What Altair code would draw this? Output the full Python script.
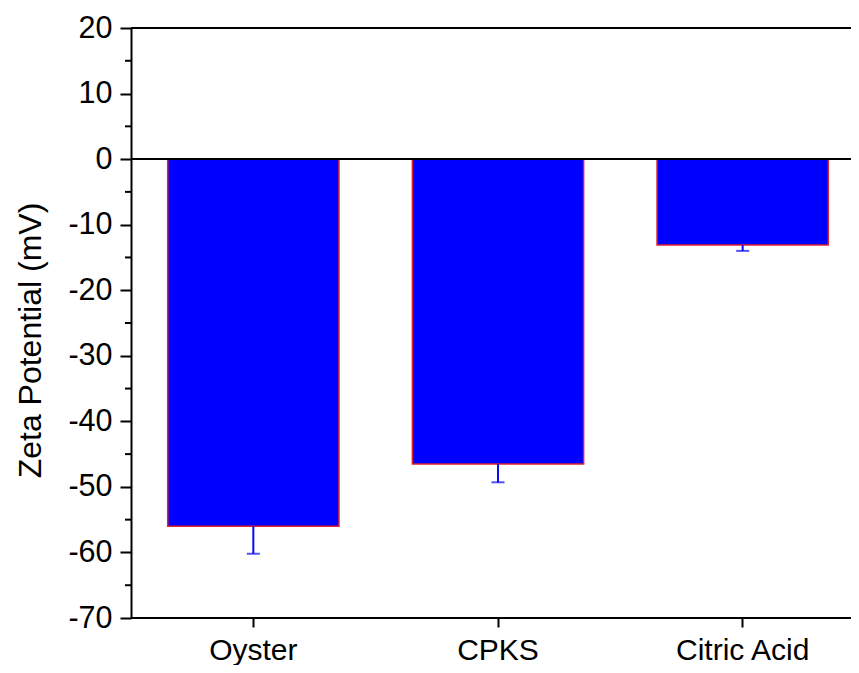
import altair as alt
import pandas as pd

categories = ["Oyster", "CPKS", "Citric Acid"]
values = [-56.0, -46.5, -13.1]
errors = [4.2, 2.8, 0.9]
major_ticks = [20, 10, 0, -10, -20, -30, -40, -50, -60, -70]
minor_ticks = [15, 5, -5, -15, -25, -35, -45, -55, -65]

df = pd.DataFrame({"cat": categories, "val": values, "err": errors})
df["low"] = df["val"] - df["err"]

FONT = "Liberation Sans"

x_scale = alt.Scale(domain=categories, range=[0, 734], paddingInner=0.3, paddingOuter=0.15, align=0.5)
y_scale = alt.Scale(domain=[-70, 20], nice=False, zero=False)

x_enc = alt.X("cat:N", scale=x_scale, sort=categories,
              axis=alt.Axis(title=None, labelAngle=0, labelFontSize=30, labelFont=FONT,
                            labelColor="black", tickSize=9, tickWidth=2, tickColor="black",
                            labelBaseline="alphabetic", labelPadding=32, grid=False,
                            domain=False))
y_enc = alt.Y("val:Q", scale=y_scale,
              axis=alt.Axis(title="Zeta Potential (mV)", values=major_ticks, labelFontSize=30.5,
                            labelFont=FONT, labelColor="black", titleFont=FONT, titleFontSize=32,
                            titleFontWeight="normal", titleColor="black", titlePadding=20,
                            titleY=312,
                            labelExpr="toString(datum.value)",
                            tickSize=11, tickWidth=2, tickColor="black", domainColor="black",
                            domainWidth=2, labelPadding=8, grid=False))

bars = alt.Chart(df).mark_bar(color="#0000FF", stroke="#E0202E", strokeWidth=1.5).encode(
    x=x_enc, y=y_enc, y2=alt.datum(0)
)

err_rule = alt.Chart(df).mark_rule(color="#0A0AF0", strokeWidth=2).encode(
    x=alt.X("cat:N", scale=x_scale, sort=categories), y=alt.Y("val:Q", scale=y_scale), y2="low:Q"
)
err_cap = alt.Chart(df).mark_tick(color="#0A0AF0", thickness=2, size=13).encode(
    x=alt.X("cat:N", scale=x_scale, sort=categories), y=alt.Y("low:Q", scale=y_scale)
)

lines_df = pd.DataFrame({"y": [0, 20, -70]})
hlines = alt.Chart(lines_df).mark_rule(color="black", strokeWidth=2).encode(
    y=alt.Y("y:Q", scale=y_scale), x=alt.value(0), x2=alt.value(760)
)
minor = alt.Chart(pd.DataFrame({"y": minor_ticks})).mark_rule(color="black", strokeWidth=2).encode(
    y=alt.Y("y:Q", scale=y_scale), x=alt.value(-6), x2=alt.value(0)
)

chart = alt.layer(bars, err_rule, err_cap, hlines, minor).properties(
    width=720, height=590,
    autosize=alt.AutoSizeParams(type="none"),
    padding={"left": 123, "top": 20, "right": 0, "bottom": 47},
).configure_view(stroke=None).configure(background="white")

chart.save("out.html", embed_options={"renderer": "svg", "actions": False})
